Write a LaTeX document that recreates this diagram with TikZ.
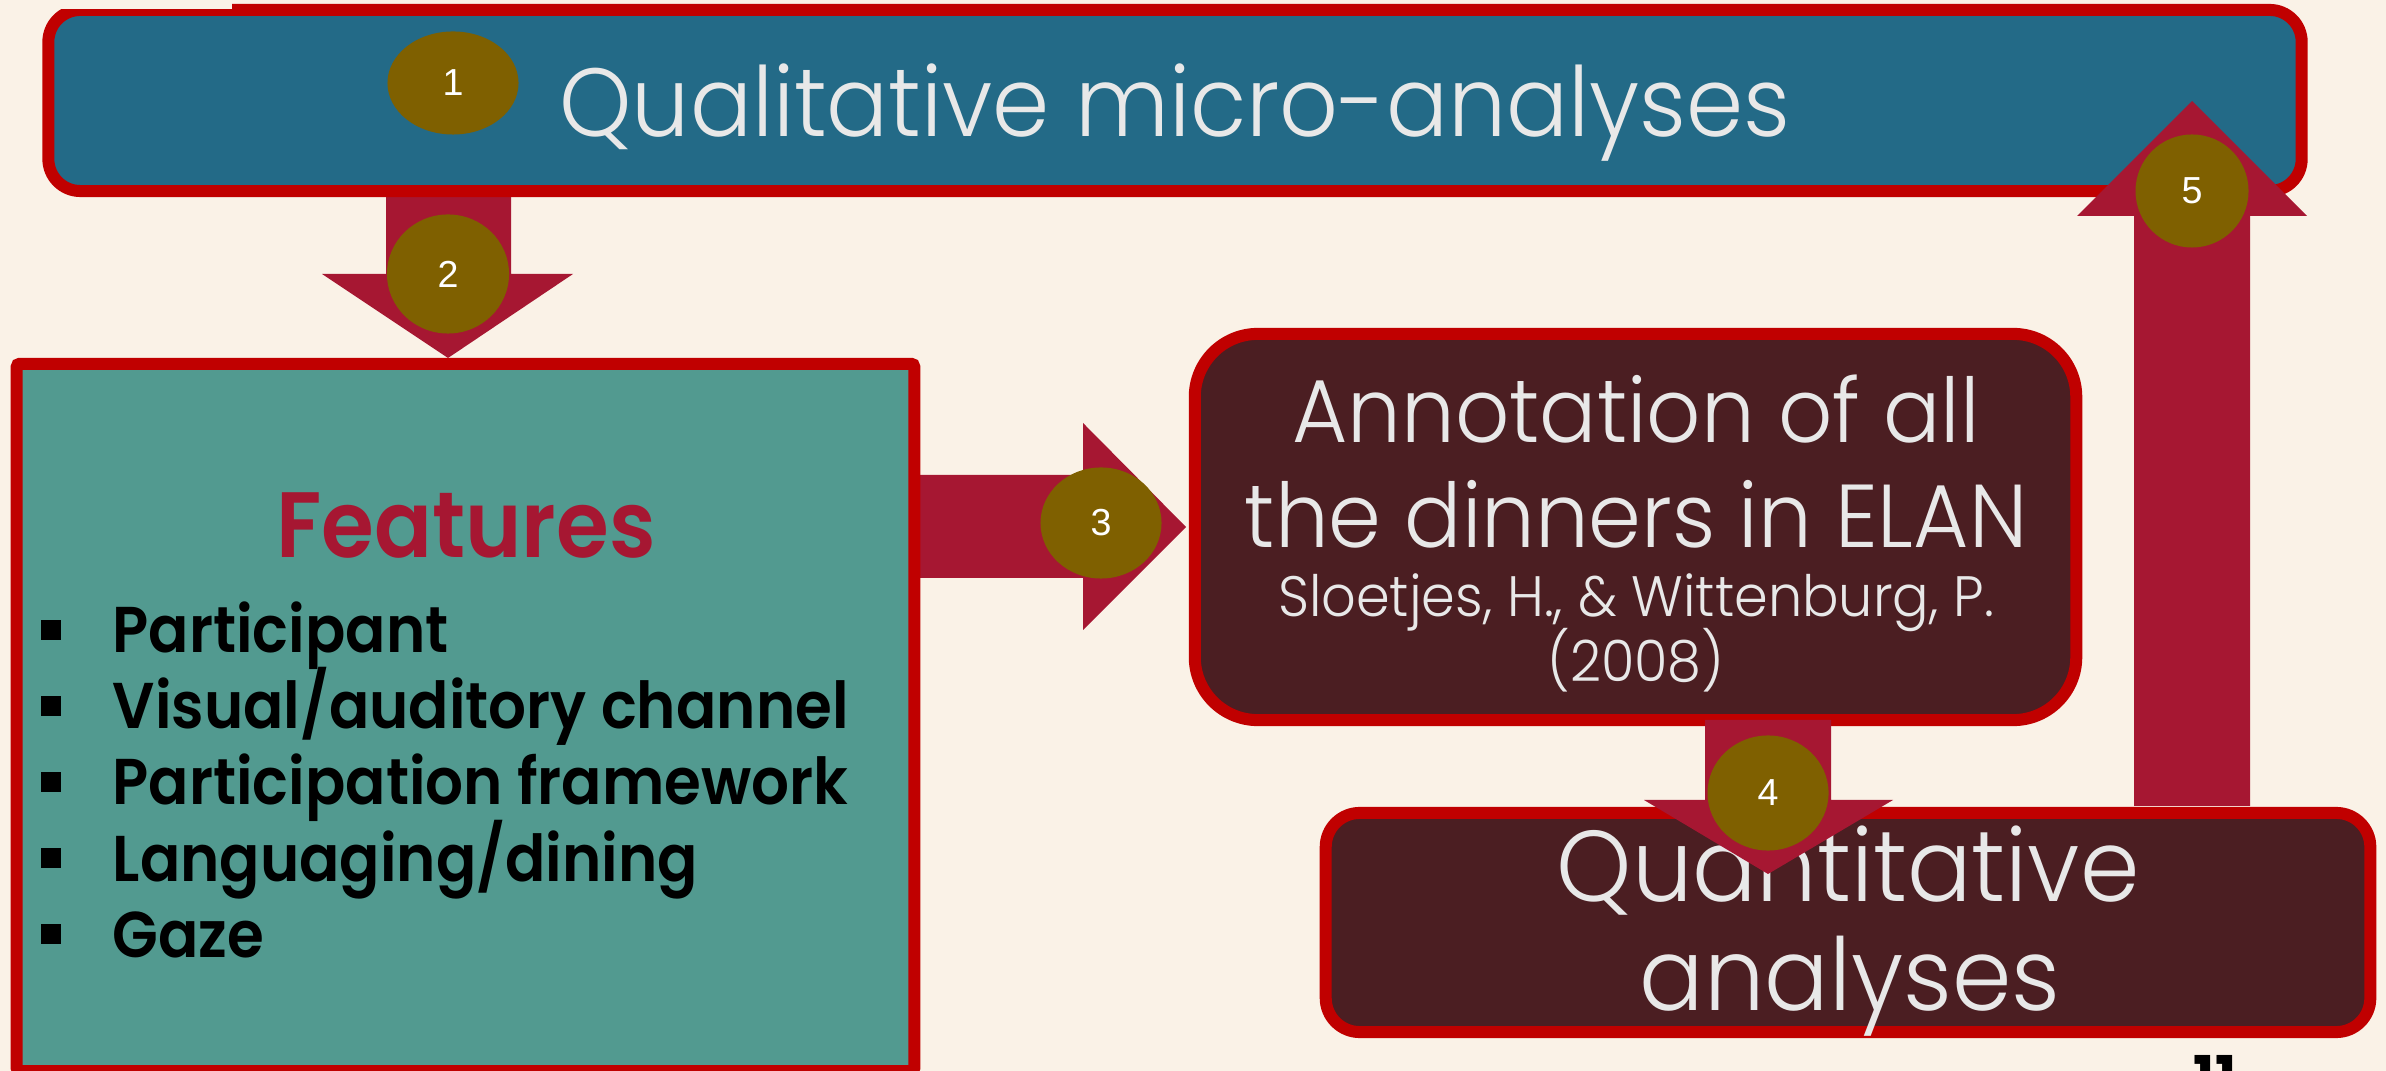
\documentclass[tikz,border=0pt]{standalone}
\usepackage{fontspec}
\setmainfont{Poppins}
\newfontfamily\lightfont{Poppins Light}[FakeStretch=0.95]
\newfontfamily\heavyfont{Poppins SemiBold}[FakeStretch=0.92]
\newfontfamily\numfont{Liberation Sans}
\usetikzlibrary{shapes.geometric}

\definecolor{cream}{HTML}{FAF2E7}
\definecolor{boxred}{HTML}{C00000}
\definecolor{steel}{HTML}{236A87}
\definecolor{crimson}{HTML}{A61732}
\definecolor{olive}{HTML}{7F6000}
\definecolor{maroon}{HTML}{4B1E22}
\definecolor{teal}{HTML}{529A90}
\definecolor{pale}{HTML}{E8E8E8}

\begin{document}
\begin{tikzpicture}[x=0.01cm, y=-0.01cm,
  panel/.style={draw=boxred, line width=0.12cm, inner sep=0pt, rectangle},
  blockarrow/.style={fill=crimson},
  badge/.style={ellipse, fill=olive, inner sep=0pt, text=white,
    font=\numfont\fontsize{10.7}{12}\selectfont},
  lighttext/.style={anchor=base, inner sep=0pt, text=pale},
  itemtext/.style={anchor=base west, inner sep=0pt, text=black,
    font=\heavyfont\fontsize{18.4}{22}\selectfont},
  bulletmark/.style={fill=black}]

% page background
\fill[cream] (0,0) rectangle (2386,1071);
\useasboundingbox (0,0) rectangle (2386,1071);

% arrows that run underneath the panels
\fill[blockarrow] (386,191) -- (511,191) -- (511,274) -- (573,274)
  -- (448,358) -- (322,274) -- (386,274) -- cycle;
\fill[blockarrow] (914,475) -- (1083,475) -- (1083,423) -- (1186,527)
  -- (1083,630) -- (1083,578) -- (914,578) -- cycle;

% panels
\node[panel, fill=steel, rounded corners=0.32cm,
  minimum width=22.52cm, minimum height=1.81cm] (quali) at (1175,100.5) {};
\fill[cream] (0,0) rectangle (232,9);
\node[panel, fill=teal, rounded corners=0.03cm,
  minimum width=8.97cm, minimum height=7.07cm] (feat) at (465.5,717.5) {};
\node[panel, fill=maroon, rounded corners=0.63cm,
  minimum width=8.81cm, minimum height=3.86cm] (annot) at (1635.5,527) {};
\node[panel, fill=maroon, rounded corners=0.34cm,
  minimum width=10.44cm, minimum height=2.19cm] (quant) at (1848,922.5) {};

% panel texts
\node[lighttext, font=\lightfont\fontsize{27.5}{33}\selectfont]
  (qualitxt) at (1175,137) {Qualitative micro-analyses};

\node[anchor=base, inner sep=0pt, text=crimson,
  font=\heavyfont\fontsize{26.4}{30}\selectfont] (feattitle) at (466,558) {Features};
\foreach \y/\t [count=\i] in {653/{Participant}, 729/{Visual/auditory channel},
    805/{Participation framework}, 881/{Languaging/dining}, 957/{Gaze}} {
  \fill[bulletmark] (41,\y-33) rectangle (61,\y-13);
  \node[itemtext] (item\i) at (112,\y) {\t};
}

\node[lighttext, font=\lightfont\fontsize{25.4}{30}\selectfont]
  (annot1) at (1636,443) {Annotation of all};
\node[lighttext, font=\lightfont\fontsize{25.4}{30}\selectfont]
  (annot2) at (1636,548) {the dinners in ELAN};
\node[lighttext, font=\lightfont\fontsize{16.2}{19}\selectfont]
  (annot3) at (1636,617) {Sloetjes, H., \& Wittenburg, P.};
\node[lighttext, font=\lightfont\fontsize{16.2}{19}\selectfont]
  (annot4) at (1636,682) {(2008)};

\node[lighttext, font=\lightfont\fontsize{28.6}{34}\selectfont]
  (quant1) at (1848,901) {Quantitative};
\node[lighttext, font=\lightfont\fontsize{28.6}{34}\selectfont]
  (quant2) at (1850,1010) {analyses};

% arrows that run over the panels
\fill[blockarrow] (1705,720) -- (1831,720) -- (1831,800) -- (1893,800)
  -- (1768,874) -- (1644,800) -- (1705,800) -- cycle;
\fill[blockarrow] (2134,806) -- (2250,806) -- (2250,216) -- (2307,216)
  -- (2192,101) -- (2077,216) -- (2134,216) -- cycle;

% step numbers
\node[badge, minimum width=1.31cm, minimum height=1.03cm] (s1) at (453,83) {1};
\node[badge, minimum width=1.22cm, minimum height=1.19cm] (s2) at (448,274) {2};
\node[badge, minimum width=1.21cm, minimum height=1.11cm] (s3) at (1101,523) {3};
\node[badge, minimum width=1.21cm, minimum height=1.15cm] (s4) at (1768,793) {4};
\node[badge, minimum width=1.13cm, minimum height=1.13cm] (s5) at (2192,191) {5};

% slide number
\node[anchor=base, inner sep=0pt, text=black,
  font=\bfseries\fontsize{16}{18}\selectfont] (pageno) at (2215,1096) {11};
\end{tikzpicture}
\end{document}
